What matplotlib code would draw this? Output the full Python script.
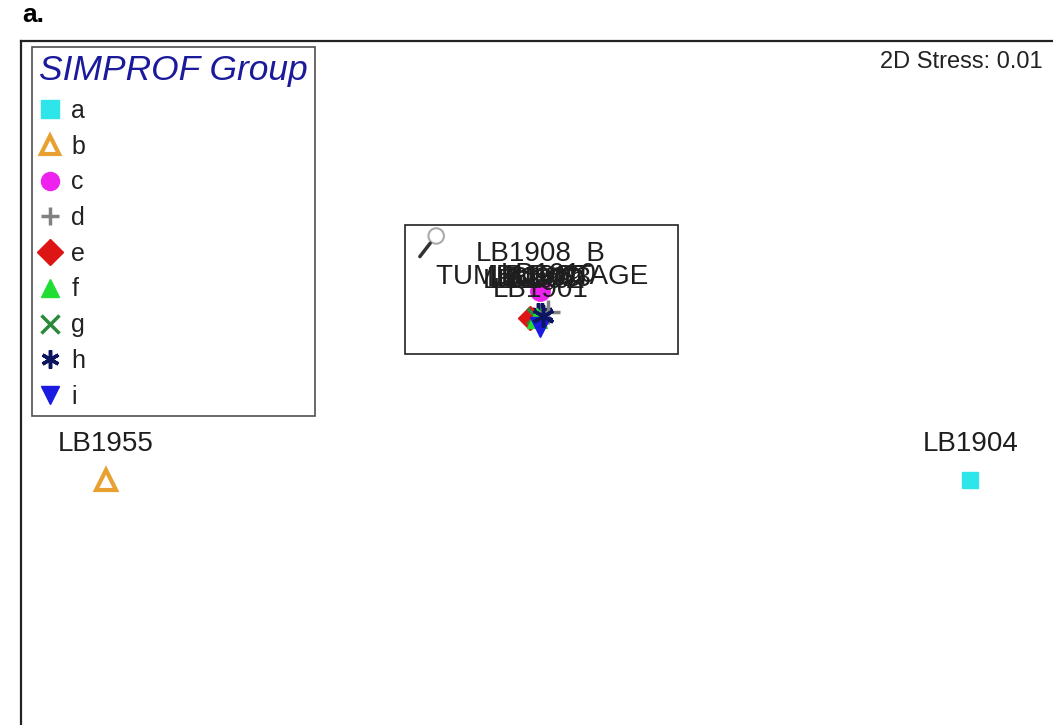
import matplotlib.pyplot as plt
from matplotlib.lines import Line2D
from matplotlib.patches import Rectangle, Circle

plt.rcParams['font.family'] = ['Liberation Sans', 'DejaVu Sans']

# nMDS coordinates
samples = ["LB1904", "LB1955", "LB1908_B", "TUMBLE STAGE", "LB1906", "LB1907",
           "LB1909", "LB1910", "LB1902", "LB1901", "LB1903"]
groups = ["a", "b", "c", "h", "h", "e", "g", "d", "f", "i", "h"]
mds_x = [1.00, -1.01, 0.00, 0.005, -0.005, -0.023, -0.012, 0.019, -0.007, 0.00, 0.007]
mds_y = [-0.42, -0.42, 0.02, -0.033, -0.033, -0.042, -0.037, -0.028, -0.042, -0.063, -0.037]

group_names = ["a", "b", "c", "d", "e", "f", "g", "h", "i"]
stress = 0.01

# marker styles for each SIMPROF group
styles = {
    "a": dict(marker="s", color="#2ee6ea", ms=12, mfc="#2ee6ea"),
    "b": dict(marker="^", color="#e8a030", ms=15, mfc="none", mew=3),
    "c": dict(marker="o", color="#ee22ee", ms=14, mfc="#ee22ee"),
    "d": dict(marker="+", color="#808080", ms=17, mew=2.5),
    "e": dict(marker="D", color="#dd1515", ms=12, mfc="#dd1515"),
    "f": dict(marker="^", color="#22dd33", ms=14, mfc="#22dd33"),
    "g": dict(marker="x", color="#2a8a3a", ms=12, mew=2.5),
    "h": dict(marker=(6, 2, 0), color="#0c1560", ms=16, mew=2.5),
    "i": dict(marker="v", color="#1a1ae0", ms=15, mfc="#1a1ae0"),
}

fig = plt.figure(figsize=(10.53, 7.25), dpi=100)
ax = fig.add_axes([0.02, -0.014, 0.987, 0.958])
ax.set_xlim(-1.207, 1.209)
ax.set_ylim(-1.012, 0.602)
ax.set_xticks([])
ax.set_yticks([])
for s in ax.spines.values():
    s.set_linewidth(1.6)
    s.set_color("#222222")

# zoom box around the tight cluster
ax.add_patch(Rectangle((-0.314, -0.126), 0.635, 0.300, fill=False, ec="#222222", lw=1.2, zorder=1))
ax.add_patch(Circle((-0.242, 0.148), 0.018, fill=False, ec="#aaaaaa", lw=1.5, zorder=2))
ax.plot([-0.256, -0.280], [0.131, 0.100], color="#333333", lw=2.5, solid_capstyle="round", zorder=2)

for name, g, x, y in zip(samples, groups, mds_x, mds_y):
    ax.plot([x], [y], linestyle="none", zorder=3, **styles[g])
    ax.annotate(name, (x, y), xytext=(0, 26.5), textcoords="offset points",
                ha="center", va="center", fontsize=20, color="#1e1e1e", zorder=4)

handles = [Line2D([], [], linestyle="none", **styles[g]) for g in group_names]
for h in handles:
    h.set_markersize(13)
leg = fig.legend(handles, group_names, loc="upper left",
                 bbox_to_anchor=(32 / 1053, 1 - 47 / 725), borderaxespad=0,
                 fontsize=18, title="SIMPROF Group", frameon=True, fancybox=False,
                 edgecolor="#222222", handlelength=0.85, handletextpad=0.45,
                 labelspacing=0.47, borderpad=0.28, alignment="left")
leg.get_frame().set_linewidth(1.2)
leg.get_title().set_fontsize(25.5)
leg.get_title().set_fontstyle("italic")
leg.get_title().set_color("#1a1a9a")
for t in leg.get_texts():
    t.set_color("#222222")

ax.text(0.983, 0.969, f"2D Stress: {stress}", transform=ax.transAxes,
        ha="right", va="center", fontsize=17, color="#222222")
fig.text(22 / 1053, 1 - 15 / 725, "a.", fontsize=19, fontweight="bold", va="center")

fig.savefig("out.png", dpi=100)
